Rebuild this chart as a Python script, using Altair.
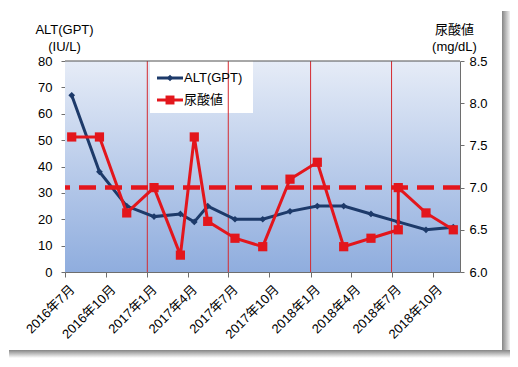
import altair as alt
import pandas as pd

# ---------------- data ----------------
alt_months = ["2016-07", "2016-09", "2016-11", "2017-01", "2017-03", "2017-04", "2017-05",
              "2017-07", "2017-09", "2017-11", "2018-01", "2018-03", "2018-05", "2018-07",
              "2018-09", "2018-11"]
alt_values = [67, 38, 25, 21, 22, 19, 25, 20, 20, 23, 25, 25, 22, 19, 16, 17]

ua_months = ["2016-07", "2016-09", "2016-11", "2017-01", "2017-03", "2017-04", "2017-05",
             "2017-07", "2017-09", "2017-11", "2018-01", "2018-03", "2018-05", "2018-07",
             "2018-07", "2018-09", "2018-11"]
ua_values = [7.6, 7.6, 6.7, 7.0, 6.2, 7.6, 6.6, 6.4, 6.3, 7.1, 7.3, 6.3, 6.4, 6.5, 7.0, 6.7, 6.5]

tick_months = ["2016-07", "2016-10", "2017-01", "2017-04", "2017-07", "2017-10",
               "2018-01", "2018-04", "2018-07", "2018-10"]
grid_months = ["2017-01", "2017-07", "2018-01", "2018-07"]
x_domain_months = ["2016-07", "2018-12"]
ua_limit = 7.0

series_names = ["ALT(GPT)", "尿酸値"]
left_title = ["ALT(GPT)", "(IU/L)"]
right_title = ["尿酸値", "(mg/dL)"]

# ---------------- styling ----------------
W, H = 395, 211
FONT = "Liberation Sans, Noto Sans CJK JP, sans-serif"
NAVY = "#1d3a6a"
RED = "#e3161c"
GRID_RED = "#d42a30"
AXIS_GRAY = "#6e6e6e"


def mid(m):
    return pd.Timestamp(m + "-01") + pd.Timedelta(days=15)


def dt(m):
    y, mo = m.split("-")
    return alt.DateTime(year=int(y), month=int(mo), date=1)


alt_df = pd.DataFrame({"date": [mid(m) for m in alt_months], "val": alt_values})
ua_df = pd.DataFrame({"date": [mid(m) for m in ua_months], "val": ua_values,
                      "idx": list(range(len(ua_values)))})
grid_df = pd.DataFrame({"date": [pd.Timestamp(m + "-01") for m in grid_months]})
one = pd.DataFrame({"a": [0]})

x_enc = alt.X(
    "date:T",
    scale=alt.Scale(domain=[dt(m) for m in x_domain_months]),
    axis=alt.Axis(
        values=[dt(m) for m in tick_months],
        labelExpr="timeFormat(datum.value,'%Y') + '年' + (month(datum.value)+1) + '月'",
        labelAngle=-45, labelAlign="right", labelBaseline="middle",
        labelPadding=10, labelOffset=7, labelOverlap=False, labelBound=False,
        labelFont=FONT, labelFontSize=13, labelColor="#000",
        tickSize=5, tickColor=AXIS_GRAY, domainColor=AXIS_GRAY, grid=False, title=None,
    ),
)

left_axis = alt.Axis(
    orient="left", values=list(range(0, 81, 10)), tickSize=4, tickColor=AXIS_GRAY,
    domainColor=AXIS_GRAY, labelFont=FONT, labelFontSize=13, labelColor="#000",
    labelPadding=9, grid=False,
    title=left_title, titleAngle=0, titleAlign="center", titleBaseline="bottom",
    titleX=-1, titleY=-25, titleFont=FONT, titleFontSize=13, titleFontWeight="normal",
    titleColor="#000", titleLineHeight=17,
)
right_axis = alt.Axis(
    orient="right", values=[6.0, 6.5, 7.0, 7.5, 8.0, 8.5], format=".1f", tickSize=4,
    tickColor=AXIS_GRAY, domainColor=AXIS_GRAY, labelFont=FONT, labelFontSize=13,
    labelColor="#000", labelPadding=5, grid=False,
    title=right_title, titleAngle=0, titleAlign="center", titleBaseline="bottom",
    titleX=-6, titleY=-25, titleFont=FONT, titleFontSize=13, titleFontWeight="normal",
    titleColor="#000", titleLineHeight=17,
)
left_scale = alt.Scale(domain=[0, 80], nice=False, zero=True)
right_scale = alt.Scale(domain=[6.0, 8.5], nice=False, zero=False)

# ---------------- decoration ----------------
shadow_right = alt.Chart(one).mark_rect(fill={
    "gradient": "linear", "x1": 0, "y1": 0, "x2": 1, "y2": 0,
    "stops": [{"offset": 0, "color": "#858585"}, {"offset": 1, "color": "#ffffff"}]}
).encode(x=alt.value(437), x2=alt.value(446), y=alt.value(-50), y2=alt.value(297))
shadow_bottom = alt.Chart(one).mark_rect(fill={
    "gradient": "linear", "x1": 0, "y1": 0, "x2": 0, "y2": 1,
    "stops": [{"offset": 0, "color": "#858585"}, {"offset": 1, "color": "#ffffff"}]}
).encode(x=alt.value(-56), x2=alt.value(446), y=alt.value(289), y2=alt.value(297))

bg = alt.Chart(one).mark_rect(fill={
    "gradient": "linear", "x1": 0, "y1": 0, "x2": 0, "y2": 1,
    "stops": [{"offset": 0, "color": "#e6ecf7"}, {"offset": 1, "color": "#8fadde"}]}
).encode(x=alt.value(0), x2=alt.value(W), y=alt.value(0), y2=alt.value(H))

legend_box = alt.Chart(one).mark_rect(fill="white").encode(
    x=alt.value(85), x2=alt.value(188), y=alt.value(0), y2=alt.value(52))

vgrid = alt.Chart(grid_df).mark_rule(color=GRID_RED, strokeWidth=1).encode(x=x_enc)

top_border = alt.Chart(one).mark_rule(color="#505050", strokeWidth=1).encode(
    x=alt.value(0), x2=alt.value(W), y=alt.value(0))

# ---------------- series ----------------
alt_y = alt.Y("val:Q", scale=left_scale, axis=left_axis)
alt_line = alt.Chart(alt_df).mark_line(color=NAVY, strokeWidth=3).encode(x=x_enc, y=alt_y)
alt_pts = alt.Chart(alt_df).mark_point(shape="diamond", filled=True, color=NAVY, size=45,
                                       opacity=1).encode(x=x_enc, y=alt_y)
left_layer = alt.layer(alt_line, alt_pts)

ua_y = alt.Y("val:Q", scale=right_scale, axis=right_axis)
ua_line = alt.Chart(ua_df).mark_line(color=RED, strokeWidth=3).encode(
    x=x_enc, y=ua_y, order="idx:Q")
ua_pts = alt.Chart(ua_df).mark_point(shape="square", filled=True, color=RED, size=85,
                                     opacity=1).encode(x=x_enc, y=ua_y)
ua_dash = alt.Chart(one).mark_rule(color=RED, strokeWidth=4.5, strokeDash=[17, 9]).encode(
    y=alt.Y(datum=ua_limit, scale=right_scale, axis=right_axis))
right_layer = alt.layer(ua_dash, ua_line, ua_pts)

# ---------------- legend ----------------
def legend_entry(name, color, shape, size, yy):
    line = alt.Chart(one).mark_rule(color=color, strokeWidth=3).encode(
        x=alt.value(92), x2=alt.value(118), y=alt.value(yy))
    mk = alt.Chart(one).mark_point(shape=shape, filled=True, color=color, size=size,
                                   opacity=1).encode(x=alt.value(105), y=alt.value(yy))
    txt = alt.Chart(one).mark_text(text=name, align="left", baseline="middle", font=FONT,
                                   fontSize=13, color="#000").encode(
        x=alt.value(119), y=alt.value(yy))
    return [line, mk, txt]


legend_layers = (legend_entry(series_names[0], NAVY, "diamond", 40, 17)
                 + legend_entry(series_names[1], RED, "square", 80, 39))

chart = alt.layer(
    shadow_right, shadow_bottom, bg, legend_box, vgrid, top_border,
    left_layer, right_layer, *legend_layers
).resolve_scale(y="independent").properties(
    width=W, height=H,
    autosize=alt.AutoSizeParams(type="none"),
    padding={"left": 57, "top": 53, "right": 50, "bottom": 88},
    background="white",
).configure_view(stroke=None)

chart.save("out.html", embed_options={"renderer": "svg", "actions": False})
